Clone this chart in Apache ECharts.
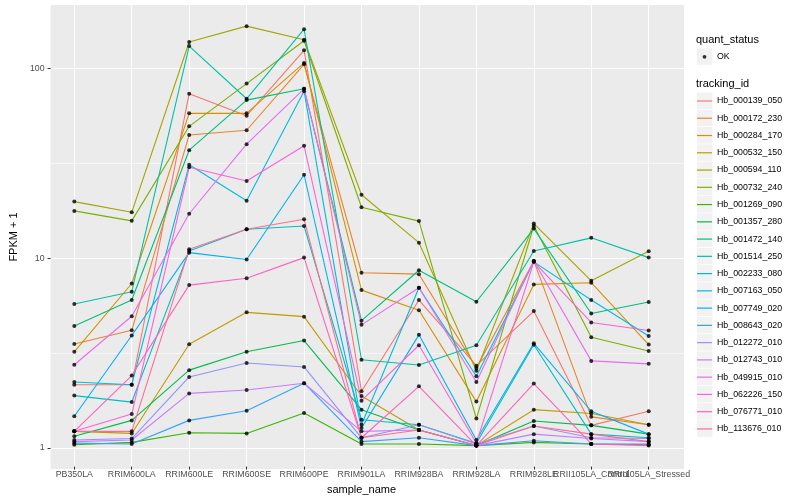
<!DOCTYPE html>
<html>
<head>
<meta charset="utf-8">
<script src="https://cdn.jsdelivr.net/npm/echarts@6/dist/echarts.min.js"></script>
<style>html,body{margin:0;padding:0;background:#fff}#c{width:800px;height:500px}</style>
</head>
<body>
<div id="c"></div>
<script>
// ---- data ----
const categories = ['PB350LA','RRIM600LA','RRIM600LE','RRIM600SE','RRIM600PE','RRIM901LA','RRIM928BA','RRIM928LA','RRIM928LE','RRII105LA_Control','RRII105LA_Stressed'];
const seriesNames = ['Hb_000139_050','Hb_000172_230','Hb_000284_170','Hb_000532_150','Hb_000594_110','Hb_000732_240','Hb_001269_090','Hb_001357_280','Hb_001472_140','Hb_001514_250','Hb_002233_080','Hb_007163_050','Hb_007749_020','Hb_008643_020','Hb_012272_010','Hb_012743_010','Hb_049915_010','Hb_062226_150','Hb_076771_010','Hb_113676_010'];
const s01 = [2.10, 2.10, 73.1, 55.9, 124, 1.94, 5.9, 2.65, 5.16, 1.28, 1.52];
const s02 = [3.45, 4.08, 44.2, 46.8, 104.6, 8.23, 8.09, 2.58, 9.51, 1.42, 1.29];
const s03 = [3.14, 7.22, 57.5, 57.5, 106.4, 6.66, 5.21, 1.71, 7.14, 7.29, 3.43];
const s04 = [1.19, 1.16, 3.44, 5.08, 4.82, 1.83, 1.21, 1.0, 1.55, 1.48, 1.29];
const s05 = [19.6, 17.2, 137.3, 166.6, 141.2, 21.3, 11.88, 2.49, 15.0, 7.46, 10.69];
const s06 = [17.5, 15.5, 49.1, 82.7, 139.4, 18.3, 15.45, 1.39, 14.6, 3.75, 3.17];
const s07 = [1.01, 1.04, 1.17, 1.16, 1.49, 1.02, 1.02, 1.0, 1.04, 1.02, 1.01];
const s08 = [1.12, 1.36, 2.51, 3.14, 3.6, 1.55, 1.21, 1.0, 1.35, 1.28, 1.15];
const s09 = [4.30, 5.9, 36.7, 67.6, 77.6, 4.59, 8.49, 5.78, 14.1, 5.01, 5.76];
const s10 = [5.62, 6.53, 130.7, 68.7, 160.6, 2.85, 2.67, 3.4, 10.74, 12.6, 9.9];
const s11 = [1.84, 1.70, 10.74, 14.0, 14.55, 1.37, 1.29, 1.03, 3.42, 1.15, 1.10];
const s12 = [2.17, 2.10, 30.7, 19.8, 75.4, 1.29, 6.86, 2.33, 9.4, 5.9, 3.81];
const s13 = [1.43, 3.83, 10.52, 9.67, 27.2, 1.24, 3.86, 1.07, 3.48, 1.52, 1.15];
const s14 = [1.03, 1.02, 1.36, 1.53, 2.14, 1.05, 1.10, 1.0, 1.06, 1.02, 1.02];
const s15 = [1.07, 1.09, 2.31, 2.74, 2.61, 1.10, 1.29, 1.02, 1.27, 1.10, 1.09];
const s16 = [1.05, 1.07, 1.89, 1.97, 2.14, 1.19, 1.21, 1.0, 1.15, 1.09, 1.05];
const s17 = [2.68, 4.84, 16.9, 39.5, 77.6, 4.36, 6.86, 2.17, 9.51, 2.81, 2.71];
const s18 = [1.19, 1.47, 29.8, 25.2, 38.7, 1.73, 3.4, 1.03, 9.4, 4.49, 4.07];
const s19 = [1.19, 2.35, 7.08, 7.7, 9.9, 1.10, 2.06, 1.0, 2.13, 1.02, 1.0];
const s20 = [1.19, 1.19, 10.95, 14.0, 15.8, 1.10, 1.21, 1.0, 1.27, 1.15, 1.05];
const seriesValues = [s01,s02,s03,s04,s05,s06,s07,s08,s09,s10,s11,s12,s13,s14,s15,s16,s17,s18,s19,s20];
const yTicks = [1, 10, 100];
const minorTicks = [Math.sqrt(10), Math.sqrt(1000)];
const pointLegend = 'OK';

// ---- style ----
const colors = ['#F8766D','#EA8331','#D89000','#C09B00','#A3A500','#7CAE00','#39B600','#00BB4E','#00BF7D','#00C1A3','#00BFC4','#00BAE0','#00B0F6','#35A2FF','#9590FF','#C77CFF','#E76BF3','#FA62DB','#FF62BC','#FF6C91'];
const FONT = "'Liberation Sans', Arial, sans-serif";
const P = {left: 40, right: 684, top: 5, bottom: 469};
const cat0 = 74.3, catN = 648.7;
const yMin = 0.774, yMax = 215.6;
const legTop = 92.5, legPitch = 17.26, keyH = 17, keyW = 15;

const chart = echarts.init(document.getElementById('c'), null, {renderer: 'canvas'});

const lineSeries = seriesNames.map((n, i) => ({
  name: n, type: 'line', xAxisIndex: 1, yAxisIndex: 1,
  data: seriesValues[i], showSymbol: false, symbol: 'none',
  lineStyle: {width: 1.1, color: colors[i]}, itemStyle: {color: colors[i]},
  silent: true, animation: false, z: 3
}));
const pts = [];
seriesValues.forEach(arr => arr.forEach((v, ci) => pts.push([ci, v])));

const graphics = [
  {type: 'text', left: 696, top: 34.5, style: {text: 'quant_status', font: '11px ' + FONT, fill: '#000'}},
  {type: 'text', left: 696, top: 78.5, style: {text: 'tracking_id', font: '11px ' + FONT, fill: '#000'}},
  {type: 'rect', shape: {x: 697, y: 48.3, width: keyW + 0.5, height: keyH - 0.5}, style: {fill: '#F2F2F2'}, z: -5}
];
seriesNames.forEach((n, i) => graphics.push({type: 'rect', shape: {x: 697, y: legTop + i * legPitch, width: keyW + 0.5, height: keyH - 0.5}, style: {fill: '#F2F2F2'}, z: -5}));

const option = {
  animation: false,
  color: colors,
  textStyle: {fontFamily: FONT},
  grid: [
    {left: P.left, right: 800 - P.right, top: P.top, bottom: 500 - P.bottom, show: true, backgroundColor: '#EBEBEB', borderWidth: 0},
    {left: cat0, right: 800 - catN, top: P.top, bottom: 500 - P.bottom}
  ],
  xAxis: [
    {gridIndex: 0, type: 'value', min: 0, max: 1, show: false},
    {gridIndex: 1, type: 'category', data: categories, boundaryGap: false,
     axisLine: {show: false},
     axisTick: {show: true, length: 3, lineStyle: {color: '#333333', width: 1}},
     axisLabel: {interval: 0, hideOverlap: false, color: '#4D4D4D', fontSize: 8.8, margin: 3.5, fontFamily: FONT},
     splitLine: {show: true, lineStyle: {color: '#FFFFFF', width: 1.07}},
     name: 'sample_name', nameLocation: 'middle', nameGap: 15,
     nameTextStyle: {color: '#000', fontSize: 11, fontFamily: FONT}}
  ],
  yAxis: [
    {gridIndex: 0, type: 'log', logBase: 10, min: yMin, max: yMax,
     axisLine: {show: false},
     axisTick: {show: true, length: 3, customValues: yTicks, lineStyle: {color: '#333333', width: 1}},
     axisLabel: {color: '#4D4D4D', fontSize: 8.8, margin: 6, customValues: yTicks, fontFamily: FONT,
       formatter: v => String(Math.round(v))},
     splitLine: {show: true, lineStyle: {color: '#FFFFFF', width: 1.07}},
     name: 'FPKM + 1', nameLocation: 'middle', nameGap: 21,
     nameTextStyle: {color: '#000', fontSize: 11, fontFamily: FONT}},
    {gridIndex: 1, type: 'log', logBase: 10, min: yMin, max: yMax, show: false}
  ],
  legend: [
    {data: [{name: pointLegend, icon: 'path://M0,0 M5.6,8.5 A1.9,1.9 0 1,0 9.4,8.5 A1.9,1.9 0 1,0 5.6,8.5 Z M15,17'}],
     orient: 'vertical', left: 697, top: 48.3, padding: 0, itemWidth: keyW, itemHeight: keyH, itemGap: 0,
     symbolKeepAspect: false, selectedMode: false,
     textStyle: {color: '#000', fontSize: 8.8, fontFamily: FONT}, itemStyle: {borderWidth: 0}},
    {data: seriesNames.map(n => ({name: n, icon: 'path://M0,0 M0,7.9 L15,7.9 L15,9.1 L0,9.1 Z M15,17'})),
     orient: 'vertical', left: 697, top: legTop, padding: 0, itemWidth: keyW, itemHeight: keyH, itemGap: legPitch - keyH,
     symbolKeepAspect: false, selectedMode: false,
     textStyle: {color: '#000', fontSize: 8.8, fontFamily: FONT}, itemStyle: {borderWidth: 0}}
  ],
  graphic: graphics,
  series: [
    {name: '_minor', type: 'line', xAxisIndex: 0, yAxisIndex: 0, data: [], silent: true,
     markLine: {z: 1, silent: true, symbol: 'none', animation: false, label: {show: false},
       lineStyle: {color: '#FFFFFF', width: 0.55, type: 'solid'},
       data: minorTicks.map(v => ({yAxis: v}))}},
    ...lineSeries,
    {name: pointLegend, type: 'scatter', xAxisIndex: 1, yAxisIndex: 1, data: pts,
     symbol: 'circle', symbolSize: 4, itemStyle: {color: '#000000'}, silent: true, z: 4}
  ]
};
chart.setOption(option);
</script>
</body>
</html>
